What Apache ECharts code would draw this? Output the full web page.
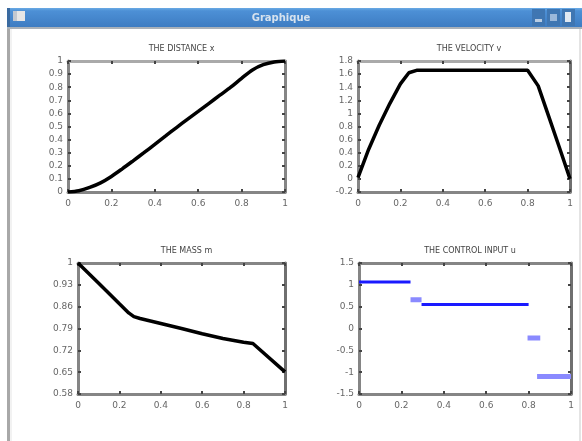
<!DOCTYPE html>
<html><head><meta charset="utf-8">
<script src="https://cdn.jsdelivr.net/npm/echarts@6/dist/echarts.min.js"></script>
<style>html,body{margin:0;padding:0;background:#fff}#c{width:582px;height:441px}</style>
</head><body><div id="c"></div>
<script>
// ---- data ----
var titles = ["THE DISTANCE x", "THE VELOCITY v", "THE MASS m", "THE CONTROL INPUT u"];
var xTicks = [0, 0.2, 0.4, 0.6, 0.8, 1];
var tDist = [0, 0.05, 0.1, 0.15, 0.2, 0.25, 0.3, 0.35, 0.4, 0.45, 0.5, 0.55, 0.6, 0.65, 0.7, 0.75, 0.8, 0.85, 0.9, 0.95, 1];
var distance = [0, 0.01, 0.035, 0.07, 0.119, 0.177, 0.238, 0.3, 0.364, 0.428, 0.492, 0.554, 0.615, 0.677, 0.739, 0.8, 0.868, 0.932, 0.972, 0.993, 1];
var tVel = [0, 0.05, 0.1, 0.15, 0.2, 0.24, 0.28, 0.8, 0.85, 0.9, 0.95, 1];
var velocity = [0.02, 0.45, 0.82, 1.15, 1.45, 1.62, 1.66, 1.66, 1.42, 0.95, 0.48, 0.0];
var tMass = [0, 0.1, 0.2, 0.245, 0.27, 0.3, 0.35, 0.4, 0.5, 0.6, 0.7, 0.8, 0.845, 1];
var mass = [1, 0.935, 0.869, 0.84, 0.828, 0.822, 0.814, 0.806, 0.79, 0.773, 0.758, 0.746, 0.742, 0.651];
var uStart = [0, 0.243, 0.295, 0.795, 0.84];
var uEnd = [0.243, 0.295, 0.8, 0.855, 1];
var uValue = [1.064, 0.658, 0.551, -0.22, -1.1];
var uLight = [false, true, false, true, true];
var windowTitle = "Graphique";

// ---- chart ----
var chart = echarts.init(document.getElementById('c'), null, {renderer: 'canvas'});
var grids = [
  {left: 68, top: 61, width: 217, height: 131},
  {left: 358, top: 61, width: 212, height: 131},
  {left: 78, top: 263, width: 207, height: 131},
  {left: 359, top: 263, width: 212, height: 131}
];
var yCfg = [
  {min: 0, max: 1, interval: 0.1},
  {min: -0.2, max: 1.8, interval: 0.2},
  {min: 0.58, max: 1, interval: 0.07},
  {min: -1.5, max: 1.5, interval: 0.5}
];
function fmt(v) { return String(parseFloat(Number(v).toFixed(2))); }
function boxLine(c) { return {show: true, onZero: false, lineStyle: {color: c || '#858585', width: 3}}; }
var tick = {show: true, inside: true, length: 3, lineStyle: {color: '#444', width: 2}};
var xAxes = [], yAxes = [];
grids.forEach(function (g, i) {
  xAxes.push({gridIndex: i, type: 'value', min: 0, max: 1, interval: 0.2, position: 'bottom',
    axisLine: boxLine(), axisTick: tick, splitLine: {show: false},
    axisLabel: {color: '#666', fontSize: 9, fontFamily: 'DejaVu Sans', margin: 7, formatter: fmt}});
  xAxes.push({gridIndex: i, type: 'value', min: 0, max: 1, interval: 0.2, position: 'top',
    axisLine: boxLine(i < 2 ? '#aaaaaa' : '#858585'), axisTick: tick,
    splitLine: {show: false}, axisLabel: {show: false}});
  yAxes.push({gridIndex: i, type: 'value', min: yCfg[i].min, max: yCfg[i].max, interval: yCfg[i].interval,
    position: 'left', axisLine: boxLine(), axisTick: tick, splitLine: {show: false},
    axisLabel: {color: '#666', fontSize: 9, fontFamily: 'DejaVu Sans', margin: 5, formatter: fmt}});
  yAxes.push({gridIndex: i, type: 'value', min: yCfg[i].min, max: yCfg[i].max, interval: yCfg[i].interval,
    position: 'right', axisLine: boxLine(i === 0 ? '#858585' : '#6f6f6f'), axisTick: tick, splitLine: {show: false}, axisLabel: {show: false}});
});
function pairs(xs, ys) { return xs.map(function (x, k) { return [x, ys[k]]; }); }
var curveStyle = {color: '#000', width: 3.5};
var series = [
  {type: 'line', xAxisIndex: 0, yAxisIndex: 0, data: pairs(tDist, distance), smooth: 0.3, symbol: 'none', lineStyle: curveStyle},
  {type: 'line', xAxisIndex: 2, yAxisIndex: 2, data: pairs(tVel, velocity), smooth: false, symbol: 'none', lineStyle: curveStyle},
  {type: 'line', xAxisIndex: 4, yAxisIndex: 4, data: pairs(tMass, mass), smooth: false, symbol: 'none', lineStyle: curveStyle}
];
uStart.forEach(function (s, k) {
  series.push({type: 'line', xAxisIndex: 6, yAxisIndex: 6, symbol: 'none',
    data: [[s, uValue[k]], [uEnd[k], uValue[k]]],
    lineStyle: {color: uLight[k] ? '#8a8aff' : '#1a1aff', width: uLight[k] ? 5 : 3}});
});
var titleCenters = [176.5, 464, 181.5, 465];
var titleTops = [40, 40, 242, 242];
var titleOpts = titles.map(function (t, i) {
  return {text: t, left: titleCenters[i], top: titleTops[i], textAlign: 'center',
    textStyle: {fontSize: 8, fontWeight: 'normal', color: '#444', fontFamily: 'DejaVu Sans'}};
});
var graphic = [
  {type: 'rect', shape: {x: 7, y: 8, width: 575, height: 19}, z: 100,
    style: {fill: new echarts.graphic.LinearGradient(0, 0, 0, 1, [
      {offset: 0, color: '#6aaae4'}, {offset: 0.15, color: '#4d90d6'}, {offset: 1, color: '#3d7cc2'}])}},
  {type: 'rect', shape: {x: 7, y: 27, width: 575, height: 2}, z: 100, style: {fill: '#a9b1b9'}},
  {type: 'rect', shape: {x: 7, y: 8, width: 3, height: 19}, z: 101, style: {fill: '#3a6aa0'}},
  {type: 'rect', shape: {x: 7, y: 29, width: 3, height: 412}, z: 100, style: {fill: '#a8a8a8'}},
  {type: 'rect', shape: {x: 10, y: 29, width: 2, height: 412}, z: 100, style: {fill: '#f2f2f2'}},
  {type: 'rect', shape: {x: 579, y: 29, width: 2, height: 412}, z: 100, style: {fill: '#e4e4e4'}},
  {type: 'rect', shape: {x: 13, y: 11, width: 12, height: 10}, z: 101, style: {fill: '#e6e6e6'}},
  {type: 'rect', shape: {x: 13, y: 11, width: 4, height: 10}, z: 102, style: {fill: '#c2c8d0'}},
  {type: 'text', x: 281, y: 18, z: 101, style: {text: windowTitle, fill: '#d6e2ee', font: 'bold 10px "DejaVu Sans"', textAlign: 'center', textVerticalAlign: 'middle'}},
  {type: 'rect', shape: {x: 532, y: 9, width: 13, height: 17}, z: 101, style: {fill: '#3f76b2'}},
  {type: 'rect', shape: {x: 547, y: 9, width: 13, height: 17}, z: 101, style: {fill: '#3f76b2'}},
  {type: 'rect', shape: {x: 562, y: 9, width: 13, height: 17}, z: 101, style: {fill: '#3f76b2'}},
  {type: 'rect', shape: {x: 535, y: 19, width: 7, height: 3}, z: 102, style: {fill: '#b9cde4'}},
  {type: 'rect', shape: {x: 550, y: 14, width: 7, height: 7}, z: 102, style: {fill: '#9bb8da'}},
  {type: 'rect', shape: {x: 565, y: 12, width: 6, height: 10}, z: 102, style: {fill: '#dfe8f2'}}
];
chart.setOption({
  animation: false,
  backgroundColor: '#ffffff',
  title: titleOpts,
  grid: grids,
  xAxis: xAxes,
  yAxis: yAxes,
  series: series,
  graphic: graphic
});
</script></body></html>
